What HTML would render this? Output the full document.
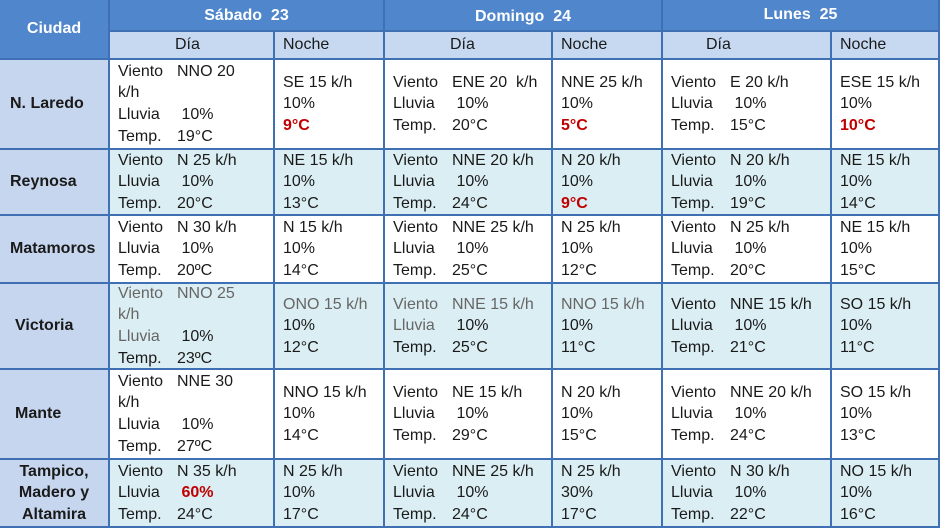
<!DOCTYPE html>
<html><head><meta charset="utf-8"><style>
*{margin:0;padding:0;box-sizing:border-box}
body{width:940px;height:528px;overflow:hidden;background:#fff;font-family:"Liberation Sans",sans-serif;color:#1a1a1a}
.c{position:absolute;display:flex;flex-direction:column;justify-content:center;font-size:16px;line-height:21.6px;padding-left:8px;white-space:pre;border-right:2px solid #3f70b4;border-bottom:2px solid #3f70b4}
.h{background:#4f86cc;color:#fff;font-weight:bold;align-items:center;padding:0;font-size:16px}
.s{background:#c6d9f1;align-items:flex-start}
.city{background:#c6d6ef;font-weight:bold;padding-left:10px}
.w{background:#fff}.b{background:#dbeef3}
.r{color:#c00000;font-weight:bold}
.g{color:#666}
.l{display:inline-block;width:59px}
</style></head><body>
<div class="c h" style="left:0;top:0;width:110px;height:60px">Ciudad</div>
<div class="c h" style="left:110px;top:0;width:275px;height:32px;justify-content:flex-start;padding-top:5px">Sábado  23</div>
<div class="c h" style="left:385px;top:0;width:278px;height:32px;justify-content:flex-start;padding-top:6px">Domingo  24</div>
<div class="c h" style="left:663px;top:0;width:277px;height:32px;justify-content:flex-start;padding-top:4px">Lunes  25</div>
<div class="c s" style="left:110px;top:32px;width:165px;height:28px;padding-left:65px">Día</div>
<div class="c s" style="left:275px;top:32px;width:110px;height:28px">Noche</div>
<div class="c s" style="left:385px;top:32px;width:168px;height:28px;padding-left:65px">Día</div>
<div class="c s" style="left:553px;top:32px;width:110px;height:28px">Noche</div>
<div class="c s" style="left:663px;top:32px;width:169px;height:28px;padding-left:43px">Día</div>
<div class="c s" style="left:832px;top:32px;width:108px;height:28px">Noche</div>

<!-- Row 1 -->
<div class="c city" style="left:0;top:60px;width:110px;height:90px">N. Laredo</div>
<div class="c w" style="left:110px;top:60px;width:165px;height:90px"><div><span class="l">Viento</span>NNO 20</div><div>k/h</div><div><span class="l">Lluvia</span> 10%</div><div><span class="l">Temp.</span>19°C</div></div>
<div class="c w" style="left:275px;top:60px;width:110px;height:90px"><div>SE 15 k/h</div><div>10%</div><div class="r">9°C</div></div>
<div class="c w" style="left:385px;top:60px;width:168px;height:90px"><div><span class="l">Viento</span>ENE 20  k/h</div><div><span class="l">Lluvia</span> 10%</div><div><span class="l">Temp.</span>20°C</div></div>
<div class="c w" style="left:553px;top:60px;width:110px;height:90px"><div>NNE 25 k/h</div><div>10%</div><div class="r">5°C</div></div>
<div class="c w" style="left:663px;top:60px;width:169px;height:90px"><div><span class="l">Viento</span>E 20 k/h</div><div><span class="l">Lluvia</span> 10%</div><div><span class="l">Temp.</span>15°C</div></div>
<div class="c w" style="left:832px;top:60px;width:108px;height:90px"><div>ESE 15 k/h</div><div>10%</div><div class="r">10°C</div></div>

<!-- Row 2 -->
<div class="c city" style="left:0;top:150px;width:110px;height:66px">Reynosa</div>
<div class="c b" style="left:110px;top:150px;width:165px;height:66px"><div><span class="l">Viento</span>N 25 k/h</div><div><span class="l">Lluvia</span> 10%</div><div><span class="l">Temp.</span>20°C</div></div>
<div class="c b" style="left:275px;top:150px;width:110px;height:66px"><div>NE 15 k/h</div><div>10%</div><div>13°C</div></div>
<div class="c b" style="left:385px;top:150px;width:168px;height:66px"><div><span class="l">Viento</span>NNE 20 k/h</div><div><span class="l">Lluvia</span> 10%</div><div><span class="l">Temp.</span>24°C</div></div>
<div class="c b" style="left:553px;top:150px;width:110px;height:66px"><div>N 20 k/h</div><div>10%</div><div class="r">9°C</div></div>
<div class="c b" style="left:663px;top:150px;width:169px;height:66px"><div><span class="l">Viento</span>N 20 k/h</div><div><span class="l">Lluvia</span> 10%</div><div><span class="l">Temp.</span>19°C</div></div>
<div class="c b" style="left:832px;top:150px;width:108px;height:66px"><div>NE 15 k/h</div><div>10%</div><div>14°C</div></div>

<!-- Row 3 -->
<div class="c city" style="left:0;top:216px;width:110px;height:68px">Matamoros</div>
<div class="c w" style="left:110px;top:216px;width:165px;height:68px"><div><span class="l">Viento</span>N 30 k/h</div><div><span class="l">Lluvia</span> 10%</div><div><span class="l">Temp.</span>20ºC</div></div>
<div class="c w" style="left:275px;top:216px;width:110px;height:68px"><div>N 15 k/h</div><div>10%</div><div>14°C</div></div>
<div class="c w" style="left:385px;top:216px;width:168px;height:68px"><div><span class="l">Viento</span>NNE 25 k/h</div><div><span class="l">Lluvia</span> 10%</div><div><span class="l">Temp.</span>25°C</div></div>
<div class="c w" style="left:553px;top:216px;width:110px;height:68px"><div>N 25 k/h</div><div>10%</div><div>12°C</div></div>
<div class="c w" style="left:663px;top:216px;width:169px;height:68px"><div><span class="l">Viento</span>N 25 k/h</div><div><span class="l">Lluvia</span> 10%</div><div><span class="l">Temp.</span>20°C</div></div>
<div class="c w" style="left:832px;top:216px;width:108px;height:68px"><div>NE 15 k/h</div><div>10%</div><div>15°C</div></div>

<!-- Row 4 -->
<div class="c city" style="left:0;top:284px;width:110px;height:86px;padding-left:15px">Victoria</div>
<div class="c b" style="left:110px;top:284px;width:165px;height:86px"><div class="g"><span class="l">Viento</span>NNO 25</div><div class="g">k/h</div><div><span class="l g">Lluvia</span> 10%</div><div><span class="l">Temp.</span>23ºC</div></div>
<div class="c b" style="left:275px;top:284px;width:110px;height:86px"><div class="g">ONO 15 k/h</div><div>10%</div><div>12°C</div></div>
<div class="c b" style="left:385px;top:284px;width:168px;height:86px"><div class="g"><span class="l">Viento</span>NNE 15 k/h</div><div><span class="l g">Lluvia</span> 10%</div><div><span class="l">Temp.</span>25°C</div></div>
<div class="c b" style="left:553px;top:284px;width:110px;height:86px"><div class="g">NNO 15 k/h</div><div>10%</div><div>11°C</div></div>
<div class="c b" style="left:663px;top:284px;width:169px;height:86px"><div><span class="l">Viento</span>NNE 15 k/h</div><div><span class="l">Lluvia</span> 10%</div><div><span class="l">Temp.</span>21°C</div></div>
<div class="c b" style="left:832px;top:284px;width:108px;height:86px"><div>SO 15 k/h</div><div>10%</div><div>11°C</div></div>

<!-- Row 5 -->
<div class="c city" style="left:0;top:370px;width:110px;height:90px;padding-left:15px">Mante</div>
<div class="c w" style="left:110px;top:370px;width:165px;height:90px"><div><span class="l">Viento</span>NNE 30</div><div>k/h</div><div><span class="l">Lluvia</span> 10%</div><div><span class="l">Temp.</span>27ºC</div></div>
<div class="c w" style="left:275px;top:370px;width:110px;height:90px"><div>NNO 15 k/h</div><div>10%</div><div>14°C</div></div>
<div class="c w" style="left:385px;top:370px;width:168px;height:90px"><div><span class="l">Viento</span>NE 15 k/h</div><div><span class="l">Lluvia</span> 10%</div><div><span class="l">Temp.</span>29°C</div></div>
<div class="c w" style="left:553px;top:370px;width:110px;height:90px"><div>N 20 k/h</div><div>10%</div><div>15°C</div></div>
<div class="c w" style="left:663px;top:370px;width:169px;height:90px"><div><span class="l">Viento</span>NNE 20 k/h</div><div><span class="l">Lluvia</span> 10%</div><div><span class="l">Temp.</span>24°C</div></div>
<div class="c w" style="left:832px;top:370px;width:108px;height:90px"><div>SO 15 k/h</div><div>10%</div><div>13°C</div></div>

<!-- Row 6 -->
<div class="c city" style="left:0;top:460px;width:110px;height:68px;align-items:center;padding:0"><div>Tampico,</div><div>Madero y</div><div>Altamira</div></div>
<div class="c b" style="left:110px;top:460px;width:165px;height:68px"><div><span class="l">Viento</span>N 35 k/h</div><div><span class="l">Lluvia</span> <span class="r">60%</span></div><div><span class="l">Temp.</span>24°C</div></div>
<div class="c b" style="left:275px;top:460px;width:110px;height:68px"><div>N 25 k/h</div><div>10%</div><div>17°C</div></div>
<div class="c b" style="left:385px;top:460px;width:168px;height:68px"><div><span class="l">Viento</span>NNE 25 k/h</div><div><span class="l">Lluvia</span> 10%</div><div><span class="l">Temp.</span>24°C</div></div>
<div class="c b" style="left:553px;top:460px;width:110px;height:68px"><div>N 25 k/h</div><div>30%</div><div>17°C</div></div>
<div class="c b" style="left:663px;top:460px;width:169px;height:68px"><div><span class="l">Viento</span>N 30 k/h</div><div><span class="l">Lluvia</span> 10%</div><div><span class="l">Temp.</span>22°C</div></div>
<div class="c b" style="left:832px;top:460px;width:108px;height:68px"><div>NO 15 k/h</div><div>10%</div><div>16°C</div></div>
</body></html>
